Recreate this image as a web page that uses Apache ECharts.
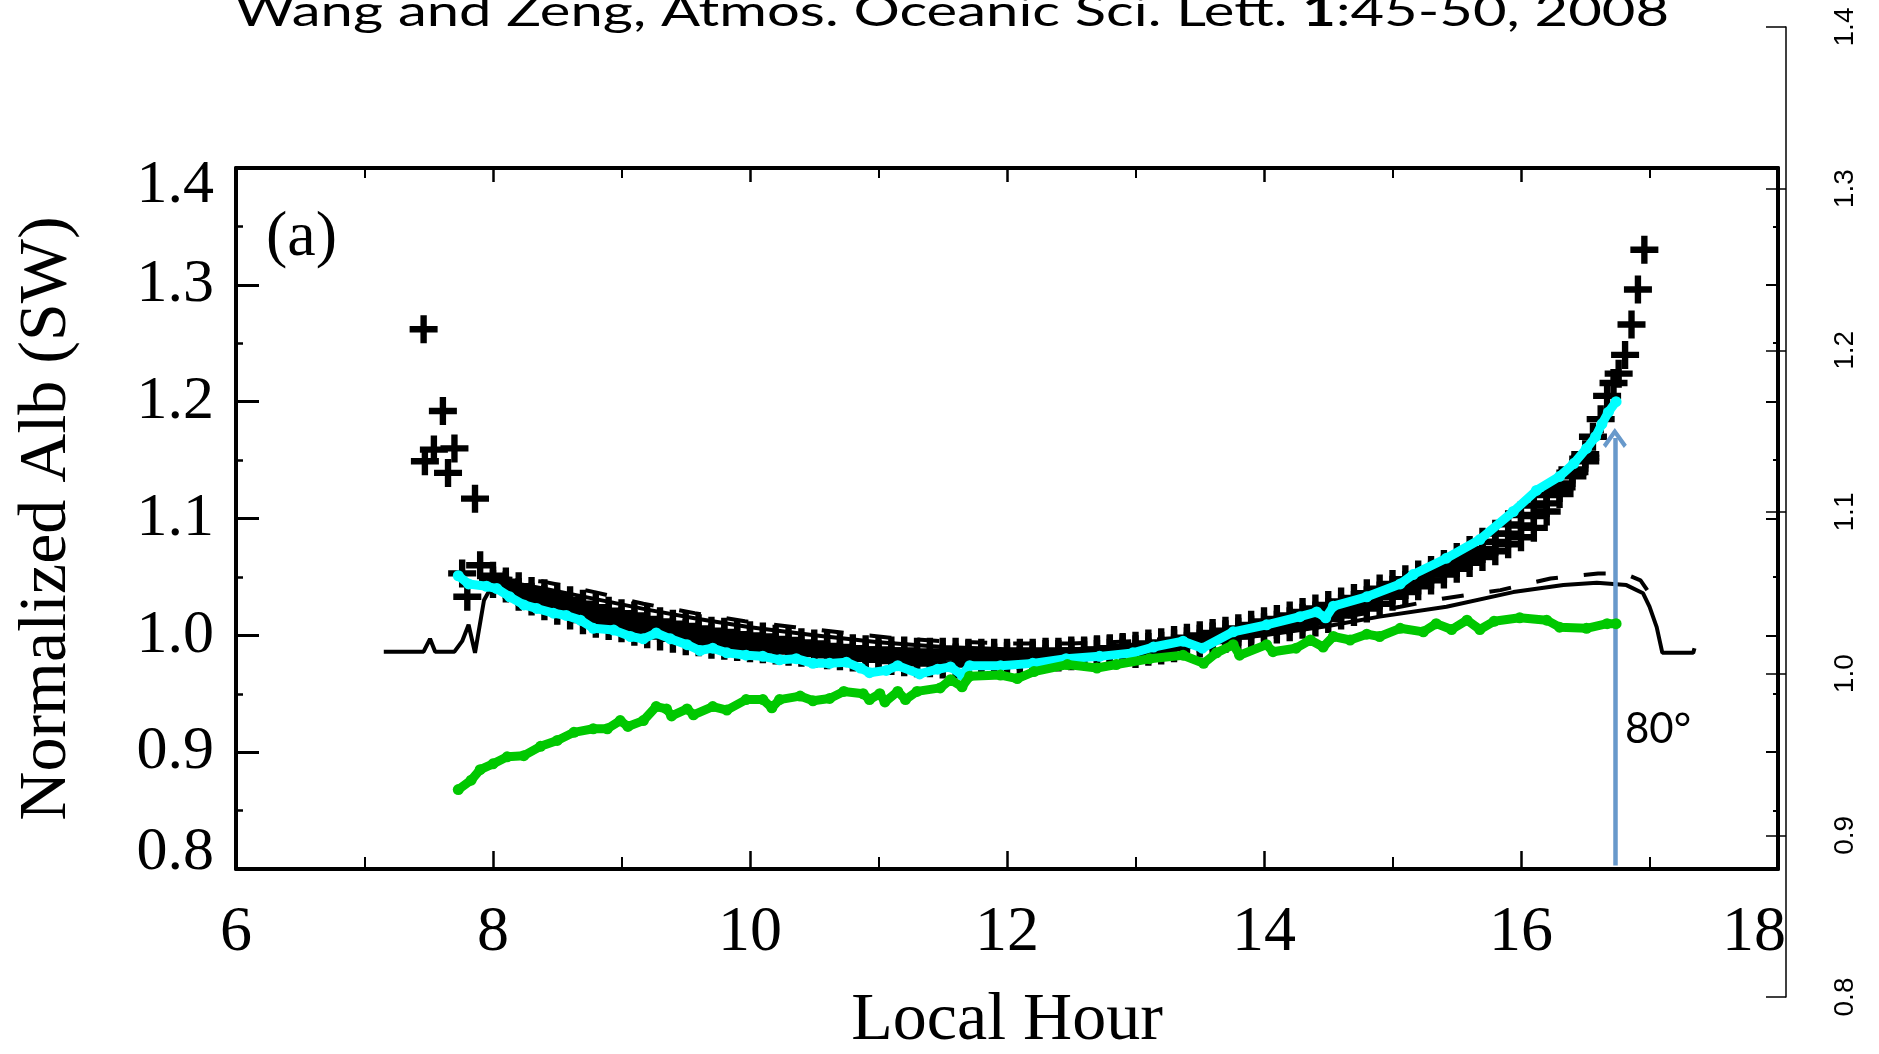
<!DOCTYPE html>
<html><head><meta charset="utf-8">
<script src="https://cdn.jsdelivr.net/npm/echarts@6/dist/echarts.min.js"></script>
<style>html,body{margin:0;padding:0;background:#fff;}#c{width:1879px;height:1054px;}</style>
</head><body><div id="c"></div>
<script>
// ---------------- DATA ----------------
const titleText = 'Wang and Zeng, Atmos. Oceanic Sci. Lett. ';
const titleBold = '1';
const titleTail = ':45-50, 2008';
const xName = 'Local Hour';
const yName = 'Normalized Alb (SW)';
const panelLabel = '(a)';
const arrowLabel = '80°';

// observed "+" band: hours and the upper / middle / lower rows of crosses
const obsHour = [8.0,8.1,8.2,8.3,8.4,8.5,8.6,8.7,8.8,8.9,9.0,9.1,9.2,9.3,9.4,9.5,9.6,9.7,9.8,9.9,
  10.0,10.1,10.2,10.3,10.4,10.5,10.6,10.7,10.8,10.9,11.0,11.1,11.2,11.3,11.4,11.5,11.6,11.7,11.8,11.9,
  12.0,12.1,12.2,12.3,12.4,12.5,12.6,12.7,12.8,12.9,13.0,13.1,13.2,13.3,13.4,13.5,13.6,13.7,13.8,13.9,
  14.0,14.1,14.2,14.3,14.4,14.5,14.6,14.7,14.8,14.9,15.0,15.1,15.2,15.3,15.4,15.5,15.6,15.7,15.8,15.9,
  16.0,16.1,16.2,16.3,16.4,16.5];
const crossHigh = [1.051,1.046,1.042,1.038,1.036,1.033,1.030,1.027,1.024,1.021,1.019,1.017,1.014,1.012,1.010,1.008,1.006,1.004,1.003,1.001,
  1.000,0.999,0.997,0.996,0.994,0.993,0.991,0.990,0.989,0.988,0.988,0.987,0.987,0.986,0.986,0.986,0.986,0.985,0.985,0.985,
  0.985,0.985,0.985,0.986,0.986,0.987,0.987,0.988,0.989,0.990,0.991,0.993,0.994,0.996,0.998,1.000,1.002,1.004,1.006,1.009,
  1.012,1.014,1.017,1.020,1.023,1.026,1.029,1.032,1.036,1.040,1.044,1.048,1.052,1.056,1.061,1.067,1.073,1.080,1.087,1.095,
  1.103,1.111,1.120,1.130,1.142,1.155];
const crossMid = [1.047,1.043,1.037,1.033,1.031,1.027,1.024,1.020,1.017,1.015,1.013,1.010,1.008,1.006,1.004,1.002,1.000,0.998,0.997,0.996,
  0.995,0.994,0.992,0.991,0.990,0.989,0.987,0.986,0.985,0.984,0.984,0.983,0.982,0.981,0.981,0.981,0.981,0.981,0.981,0.981,
  0.982,0.982,0.983,0.984,0.984,0.985,0.986,0.987,0.988,0.989,0.988,0.990,0.991,0.993,0.995,0.997,0.999,1.001,1.003,1.005,
  1.007,1.009,1.012,1.015,1.017,1.020,1.023,1.026,1.030,1.034,1.039,1.043,1.047,1.052,1.057,1.062,1.068,1.074,1.080,1.087,
  1.094,1.102,1.113,1.126,1.139,1.152];
const crossLow = [1.044,1.040,1.033,1.029,1.025,1.021,1.017,1.013,1.010,1.008,1.006,1.003,1.001,0.999,0.997,0.995,0.994,0.992,0.991,0.990,
  0.989,0.988,0.987,0.986,0.985,0.984,0.983,0.982,0.981,0.980,0.979,0.978,0.977,0.976,0.976,0.975,0.975,0.976,0.976,0.976,
  0.977,0.978,0.979,0.980,0.981,0.982,0.983,0.984,0.985,0.986,0.984,0.986,0.987,0.989,0.991,0.993,0.995,0.997,0.999,1.001,
  1.003,1.005,1.007,1.009,1.011,1.014,1.017,1.020,1.023,1.027,1.033,1.037,1.042,1.047,1.052,1.057,1.062,1.067,1.072,1.078,
  1.084,1.092,1.106,1.121,1.136,1.149];
const outlierHour = [7.46,7.61,7.54,7.70,7.47,7.65,7.86,7.90,7.76,7.80];
const outlierVal  = [1.262,1.192,1.159,1.160,1.149,1.139,1.117,1.060,1.053,1.033];
const tailHour = [16.56,16.62,16.67,16.72,16.76,16.81,16.86,16.91,16.96];
const tailVal  = [1.170,1.185,1.205,1.216,1.224,1.240,1.266,1.296,1.330];

// model: solid line
const solidHour = [7.15,7.46,7.51,7.55,7.70,7.76,7.81,7.86,7.93,7.98,8.05,8.4,8.8,9.2,9.6,10.0,10.5,11.0,11.5,12.0,12.5,13.0,13.5,14.0,14.5,14.9,15.42,15.94,16.33,16.59,16.82,16.95,17.0,17.056,17.10,17.34,17.35];
const solidVal  = [0.986,0.986,0.997,0.986,0.986,0.995,1.009,0.985,1.030,1.040,1.047,1.040,1.031,1.022,1.014,1.007,1.000,0.994,0.990,0.988,0.988,0.990,0.994,1.000,1.008,1.016,1.0245,1.037,1.043,1.045,1.043,1.036,1.0245,1.007,0.985,0.985,0.989];
// model: dashed line
const dashHour = [7.98,8.39,8.79,9.17,9.57,9.96,10.35,10.74,11.09,11.5,12.0,12.5,13.0,13.5,14.0,14.5,15.06,15.40,15.84,16.23,16.60,16.80,16.93,17.0,17.03];
const dashVal  = [1.050,1.046,1.037,1.027,1.019,1.012,1.007,1.002,0.998,0.995,0.993,0.993,0.995,0.999,1.005,1.013,1.0245,1.0316,1.0387,1.0487,1.053,1.053,1.047,1.036,1.025];

// cyan dotted series
const cyanHour = [7.73,7.81,7.95,8.03,8.13,8.24,8.34,8.47,8.57,8.68,8.78,8.94,9.07,9.17,9.27,9.38,9.51,9.61,9.71,9.82,9.97,
  10.10,10.23,10.36,10.49,10.62,10.75,10.86,10.93,11.06,11.15,11.32,11.46,11.56,11.65,11.71,11.95,12.20,12.46,12.72,12.98,
  13.14,13.37,13.52,13.76,14.02,14.28,14.41,14.48,14.54,14.80,15.06,15.16,15.42,15.68,15.94,16.12,16.30,16.41,16.51,16.58,16.63,16.68,16.74];
const cyanVal = [1.051,1.044,1.042,1.040,1.033,1.026,1.023,1.019,1.017,1.013,1.006,1.0045,0.999,0.997,1.002,0.997,0.992,0.987,0.989,0.985,0.983,
  0.982,0.979,0.980,0.976,0.976,0.977,0.972,0.968,0.970,0.974,0.967,0.971,0.973,0.966,0.974,0.974,0.976,0.980,0.982,0.985,
  0.990,0.995,0.989,1.003,1.009,1.016,1.020,1.015,1.025,1.033,1.044,1.052,1.066,1.082,1.106,1.124,1.136,1.147,1.160,1.170,1.181,1.191,1.200];

// green dotted series
const greenHour = [7.73,7.83,7.90,8.00,8.11,8.24,8.37,8.50,8.63,8.78,8.89,8.99,9.05,9.17,9.27,9.35,9.39,9.51,9.56,9.71,9.82,9.97,
  10.10,10.17,10.23,10.39,10.49,10.62,10.73,10.88,10.93,11.01,11.05,11.15,11.21,11.30,11.48,11.56,11.65,11.71,11.95,12.08,12.21,
  12.47,12.70,12.85,13.11,13.37,13.53,13.63,13.76,13.81,14.02,14.07,14.25,14.36,14.46,14.54,14.67,14.80,14.90,15.06,15.24,15.34,
  15.46,15.58,15.68,15.79,15.99,16.20,16.30,16.51,16.67,16.74];
const greenVal = [0.868,0.876,0.885,0.890,0.896,0.897,0.905,0.910,0.917,0.920,0.920,0.927,0.922,0.927,0.939,0.937,0.931,0.937,0.932,0.939,0.936,0.945,
  0.945,0.938,0.945,0.948,0.944,0.946,0.952,0.950,0.945,0.950,0.943,0.952,0.945,0.952,0.955,0.962,0.956,0.965,0.966,0.963,0.969,
  0.975,0.972,0.975,0.980,0.983,0.976,0.985,0.992,0.983,0.992,0.986,0.989,0.996,0.990,0.999,0.996,1.001,0.999,1.006,1.003,1.010,
  1.005,1.013,1.005,1.012,1.015,1.013,1.007,1.006,1.010,1.010];

// arrow (80 deg marker)
const arrowHour = 16.73;
const arrowFrom = 0.803;
const arrowTo = 1.169;

// axes
const xRange = [6, 18], xStep = 2;
const yRange = [0.8, 1.4], yStep = 0.1;
const y2Range = [0.8, 1.4], y2Step = 0.1;

// ---------------- CHART ----------------
const SERIF = "'Liberation Serif','Times New Roman',serif";
const SANS = "'Liberation Sans',Arial,sans-serif";
const TITLEF = "Lato";
const CROSS = 'path://M8.5,0H13.5V8.5H22V13.5H13.5V22H8.5V13.5H0V8.5H8.5Z';
const CHEV = 'path://M12,0L24,16L21,19L12,7L3,19L0,16Z';

const zip = (a, b) => a.map((v, i) => [v, b[i]]);
const crossPts = [];
obsHour.forEach((h, i) => {
  crossPts.push([h, crossHigh[i]]);
  crossPts.push([h, crossMid[i]]);
  crossPts.push([h, crossLow[i]]);
});
zip(outlierHour, outlierVal).forEach(p => crossPts.push(p));
zip(tailHour, tailVal).forEach(p => crossPts.push(p));

// stretch title to reference width
const mc = document.createElement('canvas').getContext('2d');
mc.font = '43px ' + TITLEF;
const tw = mc.measureText(titleText + titleBold + titleTail).width;
const titleScale = 1434 / tw;

const chart = echarts.init(document.getElementById('c'), null, {renderer: 'canvas'});
const near = (a, b) => Math.abs(a - b) < 1e-6;

const blackLine = {color: '#000', width: 4};
const option = {
  animation: false,
  backgroundColor: '#fff',
  grid: [
    {left: 236, top: 168, width: 1542, height: 701, containLabel: false, outerBoundsMode: 'none'},
    {left: 1700, top: 27, width: 86, height: 970, containLabel: false, outerBoundsMode: 'none'}
  ],
  xAxis: [
    {gridIndex: 0, type: 'value', position: 'bottom', min: xRange[0], max: xRange[1], interval: xStep,
     axisLine: {onZero: false, lineStyle: blackLine},
     axisTick: {inside: true, length: 18, lineStyle: {color: '#000', width: 2.5}},
     minorTick: {show: true, splitNumber: 2, length: 12, lineStyle: {color: '#000', width: 2}},
     splitLine: {show: false},
     axisLabel: {margin: 32, fontFamily: SERIF, fontSize: 64, color: '#000',
       formatter: v => near(v, 18) ? '{r|' + v + '}' : String(v),
       rich: {r: {padding: [0, 48, 0, 0], fontFamily: SERIF, fontSize: 64, color: '#000'}}},
     name: xName, nameLocation: 'middle', nameGap: 118,
     nameTextStyle: {fontFamily: SERIF, fontSize: 68, color: '#000'}},
    {gridIndex: 0, type: 'value', position: 'top', min: xRange[0], max: xRange[1], interval: xStep,
     axisLine: {onZero: false, lineStyle: blackLine},
     axisTick: {inside: true, length: 14, lineStyle: {color: '#000', width: 2.5}},
     minorTick: {show: true, splitNumber: 2, length: 10, lineStyle: {color: '#000', width: 2}},
     splitLine: {show: false}, axisLabel: {show: false}},
    {gridIndex: 1, type: 'value', min: 0, max: 1, show: false}
  ],
  yAxis: [
    {gridIndex: 0, type: 'value', position: 'left', min: yRange[0], max: yRange[1], interval: yStep,
     axisLine: {onZero: false, lineStyle: blackLine},
     axisTick: {inside: true, length: 23, lineStyle: {color: '#000', width: 3}},
     minorTick: {show: true, splitNumber: 2, length: 7, lineStyle: {color: '#000', width: 2.5}},
     splitLine: {show: false},
     axisLabel: {margin: 22, fontFamily: SERIF, fontSize: 62, color: '#000',
       formatter: v => {
         const s = v.toFixed(1);
         if (near(v, 1.4)) return '{t|' + s + '}';
         if (near(v, 0.8)) return '{b|' + s + '}';
         return s;
       },
       rich: {
         t: {padding: [36, 0, 0, 0], fontFamily: SERIF, fontSize: 62, color: '#000'},
         b: {padding: [0, 0, 32, 0], fontFamily: SERIF, fontSize: 62, color: '#000'}
       }},
     name: yName, nameLocation: 'middle', nameGap: 155, nameRotate: 90,
     nameTextStyle: {fontFamily: SERIF, fontSize: 68, color: '#000'}},
    {gridIndex: 0, type: 'value', position: 'right', min: yRange[0], max: yRange[1], interval: yStep,
     axisLine: {onZero: false, lineStyle: blackLine},
     axisTick: {inside: true, length: 12, lineStyle: {color: '#000', width: 2}},
     minorTick: {show: true, splitNumber: 2, length: 5, lineStyle: {color: '#000', width: 2}},
     splitLine: {show: false}, axisLabel: {show: false}},
    {gridIndex: 1, type: 'value', position: 'right', min: y2Range[0], max: y2Range[1], interval: y2Step,
     axisLine: {onZero: false, lineStyle: {color: '#000', width: 1.5}},
     axisTick: {inside: true, length: 20, lineStyle: {color: '#000', width: 1.5}},
     splitLine: {show: false},
     axisLabel: {rotate: 90, margin: 45, fontFamily: SANS, fontSize: 28, color: '#000',
       formatter: v => v.toFixed(1)}}
  ],
  series: [
    {type: 'scatter', xAxisIndex: 0, yAxisIndex: 0, data: crossPts, symbol: CROSS, symbolSize: 28,
     itemStyle: {color: '#000', opacity: 1}, silent: true, z: 2},
    {type: 'line', xAxisIndex: 0, yAxisIndex: 0, data: zip(solidHour, solidVal), showSymbol: false, symbol: 'none',
     lineStyle: {color: '#000', width: 4}, silent: true, z: 3},
    {type: 'line', xAxisIndex: 0, yAxisIndex: 0, data: zip(dashHour, dashVal), showSymbol: false, symbol: 'none',
     lineStyle: {color: '#000', width: 4, type: [22, 26]}, silent: true, z: 3},
    {type: 'line', xAxisIndex: 0, yAxisIndex: 0, data: zip(cyanHour, cyanVal), symbol: 'circle', symbolSize: 11, showSymbol: true,
     itemStyle: {color: '#00ffff'}, lineStyle: {color: '#00ffff', width: 9}, silent: true, z: 4},
    {type: 'line', xAxisIndex: 0, yAxisIndex: 0, data: zip(greenHour, greenVal), symbol: 'circle', symbolSize: 11, showSymbol: true,
     itemStyle: {color: '#00c800'}, lineStyle: {color: '#00c800', width: 9}, silent: true, z: 5},
    {type: 'line', xAxisIndex: 0, yAxisIndex: 0, data: [], silent: true, z: 6,
     markLine: {silent: true, animation: false, symbol: ['none', CHEV], symbolSize: [24, 20],
       lineStyle: {color: '#6899cb', width: 4.5, type: 'solid'}, label: {show: false},
       emphasis: {disabled: true},
       data: [[{coord: [arrowHour, arrowFrom]}, {coord: [arrowHour, arrowTo]}]]}},
    {type: 'scatter', xAxisIndex: 2, yAxisIndex: 2, data: []}
  ],
  graphic: [
    {type: 'text', x: 235, y: 12, scaleX: titleScale, z: 100,
     style: {text: titleText + '{b|' + titleBold + '}' + titleTail,
       rich: {b: {fontWeight: 'bold', fontFamily: TITLEF, fontSize: 43, fill: '#000'}},
       fontFamily: TITLEF, fontSize: 43, fill: '#000',
       align: 'left', verticalAlign: 'middle', textAlign: 'left', textVerticalAlign: 'middle'}},
    {type: 'text', x: 266, y: 238, z: 100,
     style: {text: panelLabel, fontFamily: SERIF, fontSize: 64, fill: '#000',
       align: 'left', verticalAlign: 'middle', textAlign: 'left', textVerticalAlign: 'middle'}},
    {type: 'text', x: 1625, y: 729, z: 100,
     style: {text: arrowLabel, fontFamily: TITLEF, fontSize: 42, fill: '#000',
       align: 'left', verticalAlign: 'middle', textAlign: 'left', textVerticalAlign: 'middle'}}
  ]
};
chart.setOption(option);
</script></body></html>
